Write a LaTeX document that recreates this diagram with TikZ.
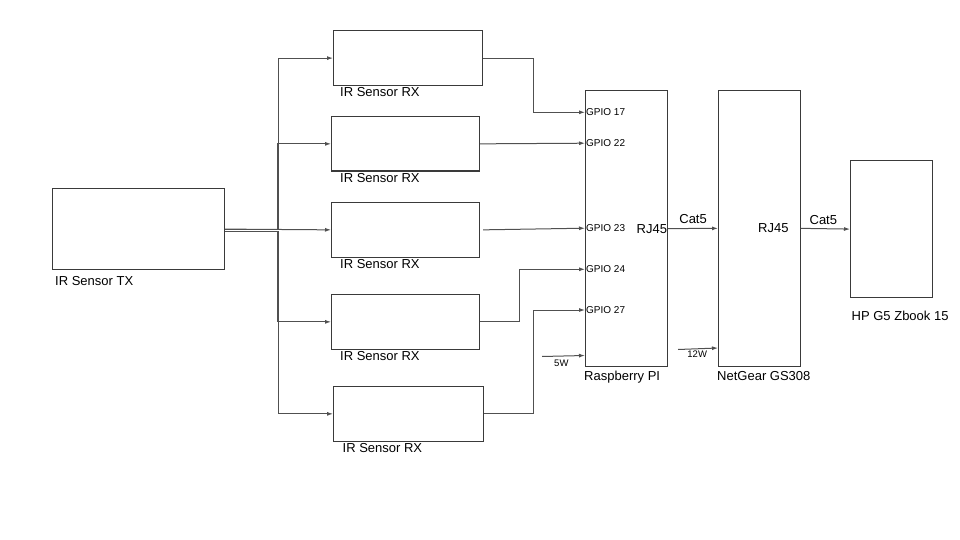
\documentclass[tikz,border=0pt]{standalone}
\usepackage{fontspec}
\setmainfont{Liberation Sans}
\usetikzlibrary{arrows.meta}
\definecolor{boxgray}{HTML}{3A3A3A}
\definecolor{wiregray}{HTML}{505050}

\begin{document}
\begin{tikzpicture}[x=1pt,y=-1pt,
  box/.style={draw=boxgray,line width=1.2pt,inner sep=0pt,anchor=north west},
  wire/.style={draw=wiregray,line width=1pt,-{Latex[length=6pt,width=4pt]}},
  lbl/.style={font=\fontsize{13}{15}\selectfont,inner sep=0pt,anchor=base west},
  pin/.style={font=\fontsize{10}{12}\selectfont,inner sep=1pt,anchor=west},
  watt/.style={font=\fontsize{9.5}{11}\selectfont,inner sep=1pt}]

\useasboundingbox[fill=white] (0,0) rectangle (960,540);

\coordinate (busA) at (278,0);
\coordinate (busB) at (277,0);
\coordinate (jogA) at (533,0);
\coordinate (jogB) at (519,0);
\coordinate (pwr5) at (542,356.5);
\coordinate (pwr12) at (678,349.5);

% boxes
\node[box,minimum width=172pt,minimum height=81pt] (tx) at (52,188) {};
\node[box,minimum width=149pt,minimum height=55pt] (rx1) at (333,30) {};
\node[box,minimum width=148pt,minimum height=54.5pt] (rx2) at (331,116) {};
\node[box,minimum width=148pt,minimum height=54.5pt] (rx3) at (331,202) {};
\node[box,minimum width=148pt,minimum height=54.5pt] (rx4) at (331,294) {};
\node[box,minimum width=149.5pt,minimum height=54.5pt] (rx5) at (333,386) {};
\node[box,minimum width=82pt,minimum height=276pt] (pi) at (585,90) {};
\node[box,minimum width=81.5pt,minimum height=275.5pt] (ng) at (718,90) {};
\node[box,minimum width=81.5pt,minimum height=137pt] (hp) at (850,160) {};

% labels
\node[lbl] at ([xshift=3pt,yshift=-15.7pt]tx.south west) {IR Sensor TX};
\foreach \r/\dx in {rx1/7,rx2/9,rx3/9,rx4/9,rx5/9.5}
  \node[lbl] at ([xshift=\dx pt,yshift=-10.4pt]\r.south west) {IR Sensor RX};
\node[lbl] at ([xshift=-1pt,yshift=-13.3pt]pi.south west) {Raspberry PI};
\node[lbl] at ([xshift=-1pt,yshift=-13.6pt]ng.south west) {NetGear GS308};
\node[lbl] at ([xshift=1.5pt,yshift=-22.7pt]hp.south west) {HP G5 Zbook 15};

\node[pin] (g17) at (585,112.3) {GPIO 17};
\node[pin] (g22) at (585,143.2) {GPIO 22};
\node[pin] (g23) at (585,228.2) {GPIO 23};
\node[pin] (g24) at (585,269.3) {GPIO 24};
\node[pin] (g27) at (585,310) {GPIO 27};

\node[lbl,anchor=east] (rjpi) at ([xshift=-1pt,yshift=-0.5pt]pi.east) {RJ45};
\node[lbl,anchor=center] (rjng) at (773.3,228) {RJ45};

% TX to receivers
\draw[wire] (tx.east) -- (tx.east -| busA) |- (rx1.west);
\draw[wire] (tx.east) -- (tx.east -| busB) |- (rx2.west);
\draw[wire] (tx.east) -- (rx3.west);
\draw[wire] ([yshift=-2pt]tx.east) -- ([yshift=-2pt]tx.east -| busB) |- (rx4.west);
\draw[wire] ([yshift=-2pt]tx.east) -- ([yshift=-2pt]tx.east -| busA) |- (rx5.west);

% receivers to GPIO
\draw[wire] (rx1.east) -- (rx1.east -| jogA) |- (g17.west);
\draw[wire] (rx2.east) -- (g22.west);
\draw[wire] ([xshift=3pt]rx3.east) -- (g23.west);
\draw[wire] (rx4.east) -- (rx4.east -| jogB) |- (g24.west);
\draw[wire] (rx5.east) -- (rx5.east -| jogA) |- (g27.west);

% network
\draw[wire] (pi.east) -- node[lbl,anchor=south,inner sep=4pt] {Cat5} (ng.west);
\draw[wire] (ng.east) -- node[lbl,anchor=south,inner sep=4pt,xshift=-2pt] {Cat5} (hp.west);

% power
\draw[wire] (pwr5) -- ([yshift=1pt]pwr5 -| pi.west) node[watt,pos=0.45,below=2pt] {5W};
\draw[wire] (pwr12) -- ([yshift=1.5pt]pwr12 -| ng.west) node[watt,pos=0.48,below=1pt] {12W};

\end{tikzpicture}
\end{document}
